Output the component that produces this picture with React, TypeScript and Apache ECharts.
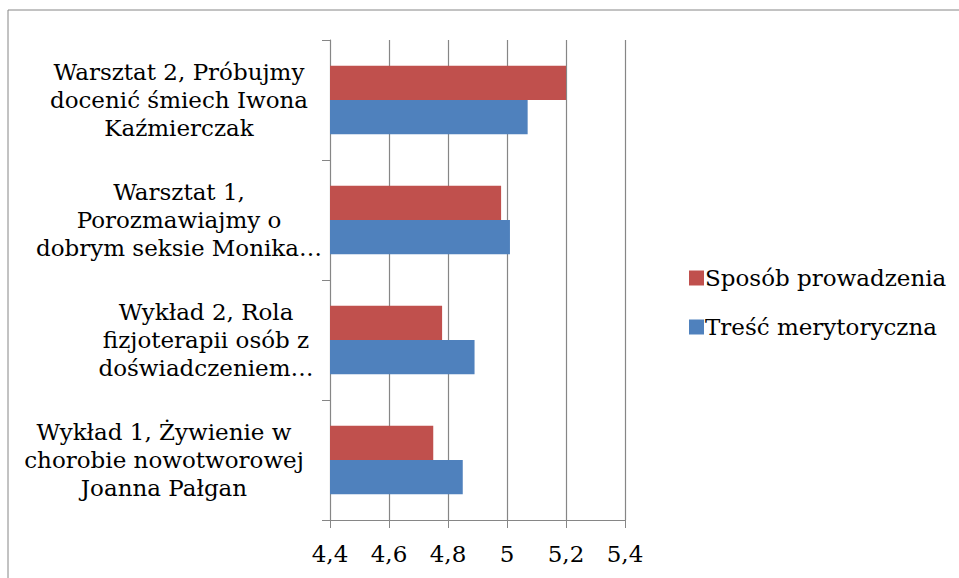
import React, { useEffect, useRef } from "react";
import * as echarts from "echarts";

const categories: string[] = [
  "Wykład 1, Żywienie w\nchorobie nowotworowej\nJoanna Pałgan",
  "Wykład 2, Rola\nfizjoterapii osób z\ndoświadczeniem…",
  "Warsztat 1,\nPorozmawiajmy o\ndobrym seksie Monika…",
  "Warsztat 2, Próbujmy\ndocenić śmiech Iwona\nKaźmierczak",
];
const seriesNames: string[] = ["Sposób prowadzenia", "Treść merytoryczna"];
const sposobValues: number[] = [4.75, 4.78, 4.98, 5.2];
const trescValues: number[] = [4.85, 4.89, 5.01, 5.07];
const xTicks = { min: 4.4, max: 5.4, interval: 0.2 };

const FONT = "DejaVu Serif";
const FS = 23;
const labelWidths = [316, 232, 286, 286];

export default function App() {
  const ref = useRef<HTMLDivElement>(null);
  useEffect(() => {
    if (!ref.current) return;
    const chart = echarts.init(ref.current, undefined, { renderer: "svg" });
    const rich: Record<string, any> = {};
    labelWidths.forEach((w, i) => {
      rich["c" + i] = {
        width: w,
        align: "center",
        fontFamily: FONT,
        fontSize: FS,
        lineHeight: 28,
        color: "#000",
      };
    });
    chart.setOption({
      animation: false,
      backgroundColor: "#fff",
      textStyle: { fontFamily: FONT },
      graphic: [
        {
          type: "rect",
          shape: { x: 8, y: 10, width: 2000, height: 2000 },
          style: { fill: "none", stroke: "#868686", lineWidth: 1 },
          silent: true,
        },
      ],
      grid: { left: 330, right: 334, top: 40, bottom: 58, containLabel: false },
      legend: {
        orient: "vertical",
        left: 684,
        top: 261,
        itemWidth: 15,
        itemHeight: 15,
        itemGap: 25,
        icon: "rect",
        data: seriesNames,
        textStyle: {
          fontFamily: FONT,
          fontSize: FS,
          color: "#000",
          lineHeight: 24,
          padding: [0, 0, 0, -4],
        },
      },
      xAxis: {
        type: "value",
        min: xTicks.min,
        max: xTicks.max,
        interval: xTicks.interval,
        axisLine: { show: true, lineStyle: { color: "#868686", width: 1 } },
        axisTick: { show: true, length: 8, lineStyle: { color: "#868686" } },
        splitLine: { show: true, lineStyle: { color: "#868686", width: 1.2 } },
        axisLabel: {
          margin: 22,
          fontFamily: FONT,
          fontSize: FS,
          color: "#000",
          formatter: (v: number) => String(+v.toFixed(1)).replace(".", ","),
        },
      },
      yAxis: {
        type: "category",
        data: categories,
        axisLine: { show: true, lineStyle: { color: "#868686", width: 1 } },
        axisTick: { show: true, length: 8, lineStyle: { color: "#868686" } },
        splitLine: { show: false },
        axisLabel: {
          margin: 8,
          interval: 0,
          formatter: (value: string, idx: number) =>
            value
              .split("\n")
              .map((l) => `{c${idx}|${l}}`)
              .join("\n"),
          rich,
        },
      },
      series: [
        {
          name: seriesNames[0],
          type: "bar",
          data: sposobValues,
          itemStyle: { color: "#C0504D" },
          barGap: "0%",
          barCategoryGap: "43%",
        },
        {
          name: seriesNames[1],
          type: "bar",
          data: trescValues,
          itemStyle: { color: "#4F81BD" },
          barGap: "0%",
          barCategoryGap: "43%",
        },
      ],
    });
    return () => chart.dispose();
  }, []);
  return (
    <div
      ref={ref}
      style={{ position: "fixed", left: 0, top: 0, width: 959, height: 578, background: "#fff" }}
    />
  );
}
